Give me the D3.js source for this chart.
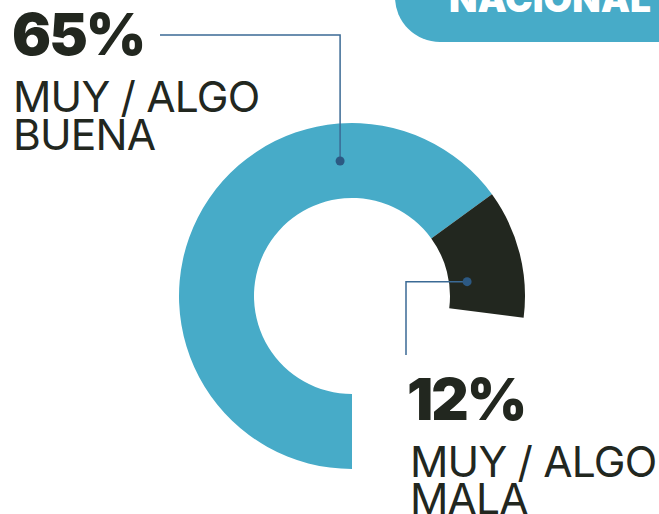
<!DOCTYPE html>
<html>
<head>
<meta charset="utf-8">
<script src="https://cdn.jsdelivr.net/npm/d3@7"></script>
<style>
  html, body { margin: 0; padding: 0; background: #fff; overflow: hidden; }
</style>
</head>
<body>
<svg id="chart" width="659" height="514"></svg>
<script>
// data
let categories = ["MUY / ALGO BUENA", "MUY / ALGO MALA"];
let values = [65, 12];
let percentLabels = ["65%", "12%"];
let labelLines = [["MUY / ALGO", "BUENA"], ["MUY / ALGO", "MALA"]];
let bannerText = "NACIONAL";

let colors = ["#47abc8", "#22271f"];
let svg = d3.select("#chart");
let cx = 352, cy = 296;
let outer = 173, inner = 98;

// banner top right
svg.append("path")
  .attr("d", "M395,-10 L659,-10 L659,42 L440,42 A45,45 0 0 1 395,-3 Z")
  .attr("fill", "#47abc8");
svg.append("text")
  .attr("x", 651)
  .attr("y", 12)
  .attr("text-anchor", "end")
  .attr("fill", "#fff")
  .style("font-family", "Inter, 'DejaVu Sans', sans-serif")
  .style("font-weight", 900)
  .style("font-size", "37px")
  .text(bannerText);

// pie covers only the share of the circle the values add up to
let total = d3.sum(values);
let pie = d3.pie()
  .sort(null)
  .startAngle(Math.PI)
  .endAngle(Math.PI + 2 * Math.PI * total / 100);

let arc = d3.arc().innerRadius(inner).outerRadius(outer);

let g = svg.append("g").attr("transform", "translate(" + cx + "," + cy + ")");
g.selectAll("path.slice")
  .data(pie(values))
  .enter()
  .append("path")
  .attr("class", "slice")
  .attr("d", arc)
  .attr("fill", function(d, i) { return colors[i]; });

// leader lines and labels
let lineColor = "#3b6a95";
let dotColor = "#2c5983";
let dots = [
  { angle: -0.088, r: (inner + outer) / 2 },
  { angle: 1.447, r: 116 }
];
let dotPos = dots.map(function(d) {
  return [cx + d.r * Math.sin(d.angle), cy - d.r * Math.cos(d.angle)];
});

// first label (top left)
svg.append("path")
  .attr("d", "M160,35 H" + dotPos[0][0] + " V" + dotPos[0][1])
  .attr("fill", "none")
  .attr("stroke", lineColor)
  .attr("stroke-width", 1.5);
// second label (bottom right)
svg.append("path")
  .attr("d", "M" + dotPos[1][0] + "," + dotPos[1][1] + " H406 V355")
  .attr("fill", "none")
  .attr("stroke", lineColor)
  .attr("stroke-width", 1.5);

svg.selectAll("circle.dot")
  .data(dotPos)
  .enter()
  .append("circle")
  .attr("class", "dot")
  .attr("cx", function(d) { return d[0]; })
  .attr("cy", function(d) { return d[1]; })
  .attr("r", 4.5)
  .attr("fill", dotColor);

let labelPos = [
  { x: 12, y: 55, lx: 13, ly: [112, 150] },
  { x: 407, y: 420, lx: 410, ly: [477, 514] }
];

categories.forEach(function(c, i) {
  svg.append("text")
    .attr("x", labelPos[i].x)
    .attr("y", labelPos[i].y)
    .attr("fill", "#22271f")
    .style("font-family", "Inter, 'DejaVu Sans', sans-serif")
    .style("font-weight", 900)
    .style("font-size", "58px")
    .style("letter-spacing", "-2px")
    .text(percentLabels[i]);
  labelLines[i].forEach(function(t, j) {
    svg.append("text")
      .attr("x", labelPos[i].lx)
      .attr("y", labelPos[i].ly[j])
      .attr("fill", "#22271f")
      .style("font-family", "Inter, 'DejaVu Sans', sans-serif")
      .style("font-weight", 400)
      .style("font-size", "42.5px")
      .style("letter-spacing", "-0.8px")
      .text(t);
  });
});
</script>
</body>
</html>
